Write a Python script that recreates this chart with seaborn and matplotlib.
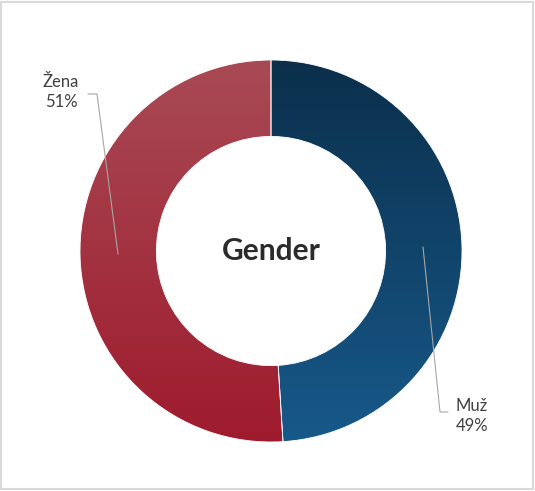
import matplotlib.pyplot as plt
import numpy as np
import seaborn as sns
from matplotlib.colors import LinearSegmentedColormap

sns.set_theme(style="white")
plt.rcParams["font.family"] = ["Lato", "DejaVu Sans"]

categories = ["Muž", "Žena"]
shares = [49, 51]
title = "Gender"

# top -> bottom gradient colours for each slice
top_colors = ["#0b2f4b", "#a84a55"]
bottom_colors = ["#17598a", "#9e1b2d"]

W, H = 535, 491
cx, cy, R = 271, 251, 191

fig = plt.figure(figsize=(W / 100, H / 100), dpi=100)
ax = fig.add_axes([0, 0, 1, 1])

wedges, _ = ax.pie(
    shares,
    startangle=90,
    counterclock=False,
    radius=1.0,
    wedgeprops=dict(width=0.4, edgecolor="white", linewidth=0.6),
)

grad = np.linspace(0, 1, 256).reshape(-1, 1)
for w, c0, c1 in zip(wedges, top_colors, bottom_colors):
    cmap = LinearSegmentedColormap.from_list("g", sns.blend_palette([c0, c1], 8))
    w.set_facecolor("none")
    im = ax.imshow(grad, cmap=cmap, extent=(-1, 1, -1, 1), origin="upper",
                   aspect="auto", zorder=1)
    im.set_clip_path(w)
    w.set_zorder(2)

ax.text(0, 0, title, ha="center", va="center", fontsize=21.5,
        fontweight="bold", color="#2b2b2b")

# data labels with leader lines
lab_color = "#404040"
line_color = "#a6a6a6"


def px(x, y):
    return (x - cx) / R, (cy - y) / R


ax.plot(*zip(px(88, 94), px(97, 94), px(118, 254)), color=line_color, lw=0.8)
ax.text(*px(61, 92), f"{categories[1]}\n{shares[1]}%", ha="center",
        va="center", fontsize=12, color=lab_color, linespacing=1.35)

ax.plot(*zip(px(423, 247), px(440, 412), px(448, 412)), color=line_color, lw=0.8)
ax.text(*px(472, 416), f"{categories[0]}\n{shares[0]}%", ha="center",
        va="center", fontsize=12, color=lab_color, linespacing=1.35)

ax.set_xlim(-cx / R, (W - cx) / R)
ax.set_ylim(-(H - cy) / R, cy / R)
ax.set_aspect("auto")
ax.axis("off")

# chart frame
fig.patches.append(plt.Rectangle((1.5 / W, 2.5 / H), 1 - 3.5 / W, 1 - 4.5 / H,
                                 transform=fig.transFigure, fill=False,
                                 edgecolor="#d9d9d9", lw=1.5))

fig.savefig("out.png", dpi=100)
